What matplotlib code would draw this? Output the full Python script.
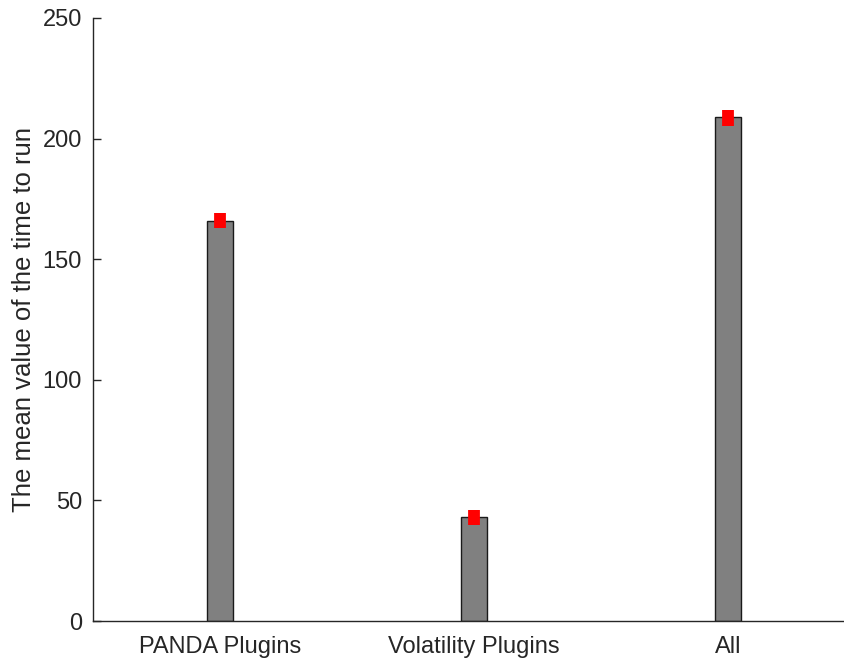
import numpy as np
import matplotlib
matplotlib.use("Agg")
import matplotlib.pyplot as plt

plt.rcParams['font.family'] = ['Liberation Sans', 'DejaVu Sans']

categories = ['PANDA Plugins', 'Volatility Plugins', 'All']
means = [166, 43, 209]
errs = [3.2, 3.2, 3.2]
marker_centers = [166, 43, 208.5]

fig = plt.figure(figsize=(8.45, 6.59), dpi=100)
ax = fig.add_axes([93/845, 1 - 621/659, 752/845, 603/659])

x = np.arange(1, len(categories) + 1)
ax.bar(x, means, width=0.1, color='#808080', edgecolor='#1a1a1a', linewidth=1.0, zorder=2)
ax.vlines(x, np.array(marker_centers) - np.array(errs), np.array(marker_centers) + np.array(errs),
          colors='red', linewidth=8.5, zorder=3)

ax.set_xlim(0.5, 3.46)
ax.set_ylim(0, 250)
ax.set_xticks(x)
ax.set_xticklabels(categories)
ax.set_yticks([0, 50, 100, 150, 200, 250])
ax.set_ylabel('The mean value of the time to run', fontsize=18.5, color='#262626', labelpad=5)

for s in ['top', 'right']:
    ax.spines[s].set_visible(False)
for s in ['left', 'bottom']:
    ax.spines[s].set_color('#262626')
    ax.spines[s].set_linewidth(1.0)
ax.tick_params(direction='in', length=6, width=1.0, colors='#262626', labelsize=17, pad=8)
ax.tick_params(axis='x', pad=11)

fig.savefig('out.png', dpi=100)
